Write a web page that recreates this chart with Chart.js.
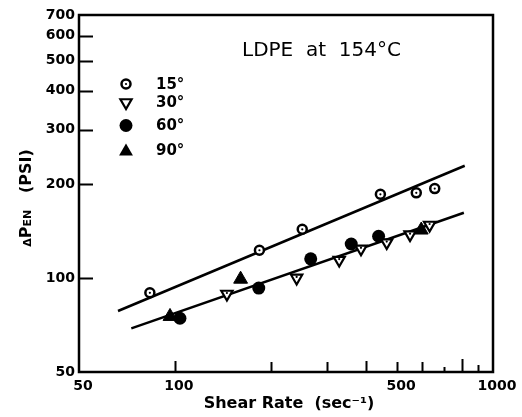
<!DOCTYPE html>
<html><head><meta charset="utf-8">
<script src="https://cdn.jsdelivr.net/npm/chart.js@4/dist/chart.umd.min.js"></script>
<style>html,body{margin:0;padding:0;background:#fff}#wrap{width:522px;height:417px}</style>
</head><body><div id="wrap"><canvas id="c" width="522" height="417"></canvas></div>
<script>
// ---- data ----
const xTickLabels = [50, 100, 500, 1000];
const yTickLabels = [50, 100, 200, 300, 400, 500, 600, 700];
const xMarkTicks = [100, 200, 300, 400, 500, 600, 700, 800, 900];
const yMarkTicks = [100, 200, 300, 400, 500, 600];
const seriesNames = ['15°', '30°', '60°', '90°'];
const rate15 = [83.5, 184.5, 251.5, 442.7, 574, 656];
const dp15   = [89.8, 123, 143.6, 186, 188, 194];
const rate30 = [145.8, 241.5, 328.6, 384.7, 463.4, 548.7, 632];
const dp30   = [89, 100.2, 114.4, 124.3, 130.2, 138, 148.2];
const rate60 = [103.8, 183.6, 267.4, 358.5, 437];
const dp60   = [74.4, 93, 115.4, 128.8, 136.4];
const rate90 = [96.6, 161, 595];
const dp90   = [75.4, 99.3, 142.8];
const fitUpperRate = [66.3, 815];
const fitUpperDp   = [78.5, 229.7];
const fitLowerRate = [73, 810];
const fitLowerDp   = [69, 162.3];
const chartTitle = 'LDPE  at  154°C';
const xTitle = 'Shear Rate  (sec⁻¹)';

// ---- helpers ----
const pts = (xs, ys) => xs.map((x, i) => ({ x: x, y: ys[i] }));
const FONT = '"DejaVu Sans", sans-serif';
const xTickLen = { 100: 11, 200: 10, 300: 10, 400: 11, 500: 10, 600: 10, 700: 5, 800: 13, 900: 7 };
const yTickLen = 14;

const frameTicks = {
  id: 'frameTicks',
  afterDraw(chart) {
    const { ctx, chartArea: a, scales } = chart;
    ctx.save();
    ctx.strokeStyle = '#000';
    ctx.lineWidth = 2.5;
    ctx.lineCap = 'square';
    ctx.strokeRect(a.left, a.top, a.right - a.left, a.bottom - a.top);
    ctx.lineWidth = 2;
    ctx.lineCap = 'butt';
    ctx.beginPath();
    xMarkTicks.forEach(v => {
      const px = Math.round(scales.x.getPixelForValue(v)) + 0.5;
      ctx.moveTo(px, a.bottom);
      ctx.lineTo(px, a.bottom - xTickLen[v]);
    });
    yMarkTicks.forEach(v => {
      const py = Math.round(scales.y.getPixelForValue(v)) + 0.5;
      ctx.moveTo(a.left, py);
      ctx.lineTo(a.left + yTickLen, py);
    });
    ctx.stroke();
    ctx.restore();
  }
};

const centerDots = {
  id: 'centerDots',
  afterDatasetsDraw(chart) {
    const ctx = chart.ctx;
    ctx.save();
    ctx.fillStyle = '#000';
    [0, 1].forEach(di => {
      chart.getDatasetMeta(di).data.forEach(el => {
        ctx.beginPath();
        ctx.arc(el.x, el.y + (di === 1 ? -1 : 0), 1.1, 0, Math.PI * 2);
        ctx.fill();
      });
    });
    ctx.restore();
  }
};

function symbol(ctx, kind, x, y) {
  ctx.save();
  ctx.strokeStyle = '#000';
  ctx.fillStyle = '#000';
  ctx.lineWidth = 2.5;
  ctx.beginPath();
  if (kind === 0) {
    ctx.arc(x, y, 4.5, 0, Math.PI * 2);
    ctx.fillStyle = '#fff'; ctx.fill(); ctx.stroke();
    ctx.beginPath(); ctx.fillStyle = '#000'; ctx.arc(x, y, 1.1, 0, Math.PI * 2); ctx.fill();
  } else if (kind === 1) {
    const r = 6.5;
    for (let k = 0; k < 3; k++) {
      const ang = Math.PI + k * 2 * Math.PI / 3;
      const px = x + Math.sin(ang) * r, py = y - Math.cos(ang) * r;
      k ? ctx.lineTo(px, py) : ctx.moveTo(px, py);
    }
    ctx.closePath();
    ctx.fillStyle = '#fff'; ctx.fill(); ctx.lineWidth = 2.2; ctx.stroke();
  } else if (kind === 2) {
    ctx.arc(x, y, 6.5, 0, Math.PI * 2); ctx.fill();
  } else {
    const r = 8;
    for (let k = 0; k < 3; k++) {
      const ang = k * 2 * Math.PI / 3;
      const px = x + Math.sin(ang) * r, py = y + 1.5 - Math.cos(ang) * r;
      k ? ctx.lineTo(px, py) : ctx.moveTo(px, py);
    }
    ctx.closePath(); ctx.fill();
  }
  ctx.restore();
}

const texts = {
  id: 'texts',
  afterDraw(chart) {
    const ctx = chart.ctx;
    ctx.save();
    ctx.fillStyle = '#000';
    ctx.font = '20px ' + FONT;
    ctx.textAlign = 'left';
    ctx.textBaseline = 'middle';
    ctx.fillText(chartTitle, 242, 51);
    const rows = [84, 102.5, 125.5, 150];
    ctx.font = 'bold 15px ' + FONT;
    seriesNames.forEach((n, i) => {
      symbol(ctx, i, 126, rows[i]);
      ctx.fillStyle = '#000';
      ctx.fillText(n, 156, rows[i] + 1);
    });
    ctx.font = 'bold 16px ' + FONT;
    ctx.textAlign = 'center';
    ctx.fillText(xTitle, 289, 404);
    ctx.translate(25, 198);
    ctx.rotate(-Math.PI / 2);
    const parts = [
      ['bold 11px ' + FONT, 'Δ'],
      ['bold 16px ' + FONT, 'P'],
      ['bold 11px ' + FONT, 'EN'],
      ['bold 16px ' + FONT, '   (PSI)']
    ];
    let total = 0;
    parts.forEach(p => { ctx.font = p[0]; total += ctx.measureText(p[1]).width; });
    let cx = -total / 2;
    ctx.textAlign = 'left';
    ctx.textBaseline = 'alphabetic';
    parts.forEach(p => {
      ctx.font = p[0];
      ctx.fillText(p[1], cx, 6);
      cx += ctx.measureText(p[1]).width;
    });
    ctx.restore();
  }
};

const tickFont = { family: FONT, size: 14, weight: 'bold' };

new Chart(document.getElementById('c'), {
  type: 'scatter',
  data: {
    datasets: [
      { label: seriesNames[0], data: pts(rate15, dp15), pointStyle: 'circle', pointRadius: 4.5,
        pointBackgroundColor: '#fff', pointBorderColor: '#000', pointBorderWidth: 2.5 },
      { label: seriesNames[1], data: pts(rate30, dp30), pointStyle: 'triangle', pointRotation: 180, pointRadius: 6.5,
        pointBackgroundColor: '#fff', pointBorderColor: '#000', pointBorderWidth: 2.2 },
      { label: seriesNames[2], data: pts(rate60, dp60), pointStyle: 'circle', pointRadius: 6.5,
        pointBackgroundColor: '#000', pointBorderColor: '#000', pointBorderWidth: 0 },
      { label: seriesNames[3], data: pts(rate90, dp90), pointStyle: 'triangle', pointRadius: 8,
        pointBackgroundColor: '#000', pointBorderColor: '#000', pointBorderWidth: 1 },
      { label: 'fit upper', data: pts(fitUpperRate, fitUpperDp), showLine: true, pointRadius: 0,
        borderColor: '#000', borderWidth: 2.5, order: 10 },
      { label: 'fit lower', data: pts(fitLowerRate, fitLowerDp), showLine: true, pointRadius: 0,
        borderColor: '#000', borderWidth: 2.5, order: 10 }
    ]
  },
  options: {
    responsive: false,
    animation: false,
    devicePixelRatio: 1,
    layout: { padding: { left: 0, right: 29, top: 15, bottom: 0 } },
    plugins: { legend: { display: false }, tooltip: { enabled: false } },
    scales: {
      x: {
        type: 'logarithmic', min: 50, max: 1000,
        grid: { display: false, drawTicks: false }, border: { display: false },
        ticks: { font: tickFont, color: '#000', padding: 6, labelOffset: 4, maxRotation: 0, autoSkip: false,
          callback: v => String(v) },
        afterBuildTicks: s => { s.ticks = xTickLabels.map(v => ({ value: v })); },
        afterFit: s => { s.height = 45; }
      },
      y: {
        type: 'logarithmic', min: 50, max: 700,
        grid: { display: false, drawTicks: false }, border: { display: false },
        ticks: { font: tickFont, color: '#000', padding: 4, autoSkip: false,
          callback: v => String(v) },
        afterBuildTicks: s => { s.ticks = yTickLabels.map(v => ({ value: v })); },
        afterFit: s => { s.width = 79; }
      }
    }
  },
  plugins: [frameTicks, centerDots, texts]
});
</script>
</body></html>
